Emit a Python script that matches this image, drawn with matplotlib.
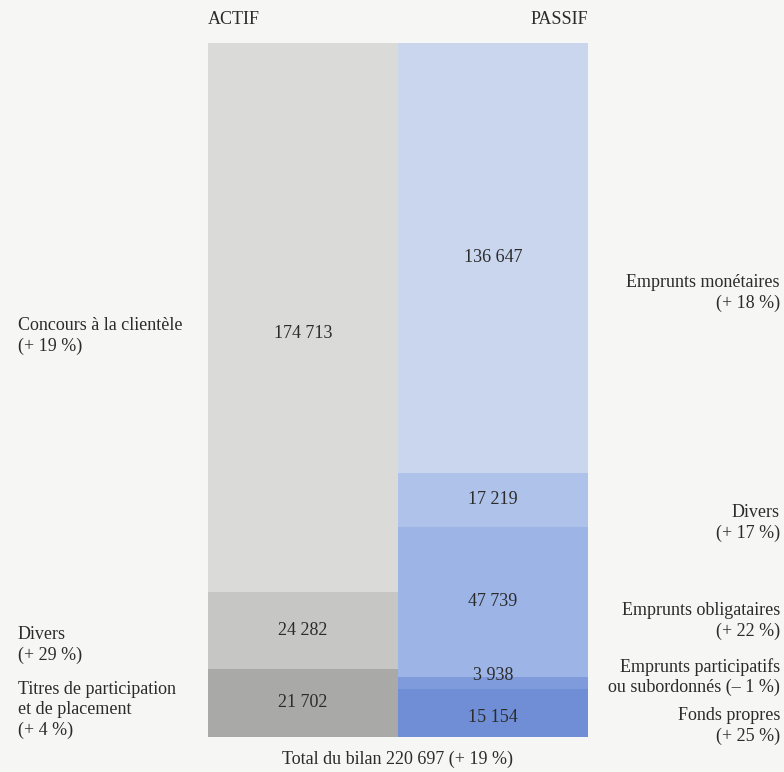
import matplotlib
matplotlib.use('Agg')
from matplotlib import pyplot as plt
import numpy as np

plt.rcParams['font.family'] = ['Liberation Serif', 'DejaVu Serif']

# values (millions) from top to bottom of each column
actif_labels = ['Concours à la clientèle\n(+ 19 %)', 'Divers\n(+ 29 %)',
                'Titres de participation\net de placement\n(+ 4 %)']
actif_values = [174713, 24282, 21702]
actif_colors = ['#dadad9', '#c6c6c5', '#a9a9a8']

passif_labels = ['Emprunts monétaires\n(+ 18 %)', 'Divers\n(+ 17 %)',
                 'Emprunts obligataires\n(+ 22 %)',
                 'Emprunts participatifs\nou subordonnés (– 1 %)',
                 'Fonds propres\n(+ 25 %)']
passif_values = [136647, 17219, 47739, 3938, 15154]
passif_colors = ['#c9d6ee', '#afc3ea', '#9db4e6', '#7f9bdc', '#6f8ed6']

total = 220697
total_text = 'Total du bilan 220 697 (+ 19 %)'


def fmt(v):
    return f'{v:,}'.replace(',', ' ')


W, H = 784, 772
fig = plt.figure(figsize=(W / 100, H / 100), dpi=100)
fig.patch.set_facecolor('#f6f6f4')

ax = fig.add_axes([208 / W, (H - 737) / H, 380 / W, 694 / H])
ax.set_xlim(0, 2)
ax.set_ylim(0, total)
ax.axis('off')

fs = 13
tc = '#2b2b2b'

# stacked columns, drawn from the top downwards
for col, (vals, cols) in enumerate([(actif_values, actif_colors),
                                    (passif_values, passif_colors)]):
    top = total
    for v, c in zip(vals, cols):
        ax.bar(col, v, bottom=top - v, width=1, align='edge', color=c,
               edgecolor='none')
        top -= v

# value labels inside the columns
top = total
centers_a = []
for v in actif_values:
    centers_a.append(top - v / 2)
    top -= v
centers_a[0] -= 5000
for y, v in zip(centers_a, actif_values):
    ax.text(0.5, y, fmt(v), ha='center', va='center', fontsize=fs, color=tc)

top = total
centers_p = []
for v in passif_values:
    centers_p.append(top - v / 2)
    top -= v
# the two thin bottom blocks share the space, their numbers are stacked
centers_p[3] = centers_p[3] + 2500
centers_p[4] = centers_p[4] - 1500
for y, v in zip(centers_p, passif_values):
    ax.text(1.5, y, fmt(v), ha='center', va='center', fontsize=fs, color=tc)

# side labels (pixel positions)
left_y = [336, 645, 710]
for lab, y in zip(actif_labels, left_y):
    fig.text(18 / W, 1 - y / H, lab, ha='left', va='center', fontsize=fs,
             color=tc, linespacing=1.25)

right_y = [293, 523, 621, 677, 726]
for lab, y in zip(passif_labels, right_y):
    fig.text(780 / W, 1 - y / H, lab, ha='right', va='center', fontsize=fs,
             color=tc, linespacing=1.25, multialignment='right')

fig.text(208 / W, 1 - 20 / H, 'ACTIF', ha='left', va='center', fontsize=fs, color=tc)
fig.text(588 / W, 1 - 20 / H, 'PASSIF', ha='right', va='center', fontsize=fs, color=tc)
fig.text(398 / W, 1 - 759 / H, total_text, ha='center', va='center', fontsize=fs,
         color=tc)

fig.savefig('out.png', dpi=100, facecolor=fig.get_facecolor())
